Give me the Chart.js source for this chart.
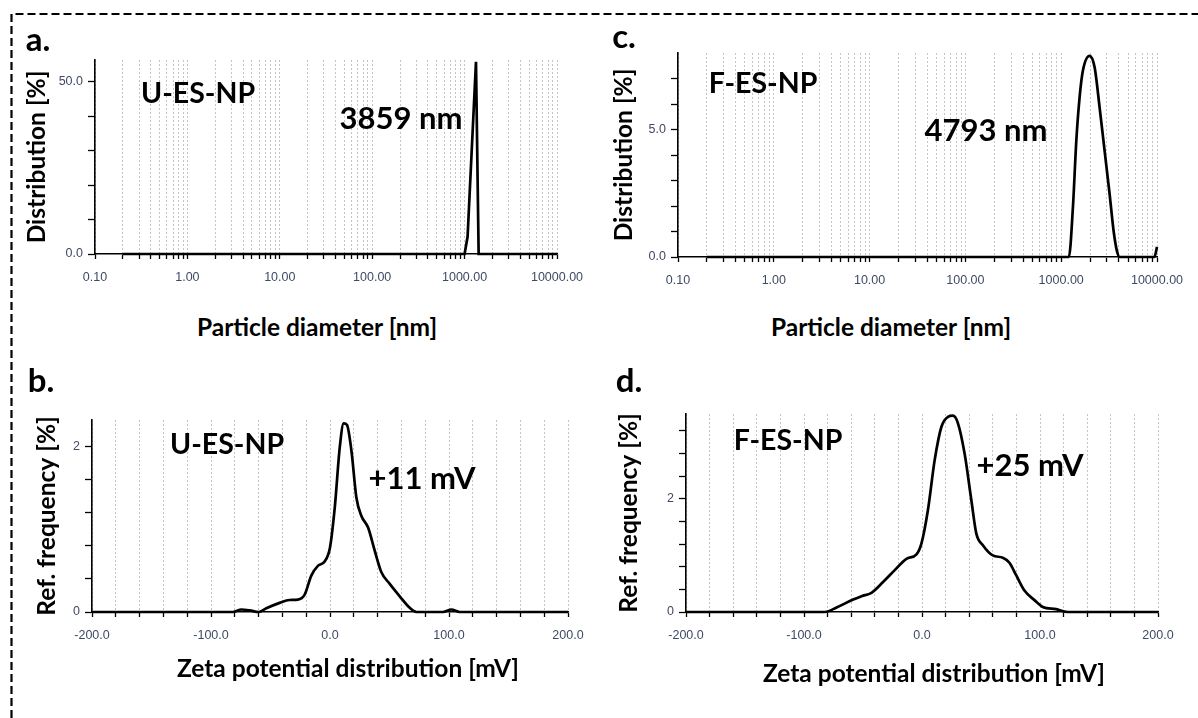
<!DOCTYPE html>
<html>
<head>
<meta charset="utf-8">
<script src="https://cdn.jsdelivr.net/npm/chart.js@4.4.0/dist/chart.umd.min.js"></script>
<style>
    body { margin: 0; background: #fff; width: 1198px; height: 718px; overflow: hidden; position: relative; font-family: Lato, sans-serif; }
    canvas { position: absolute; }
    .txt { position: absolute; font-weight: bold; color: #000; white-space: nowrap; line-height: 1; transform: translate(-50%, -0.89em); }
    .letra { font-size: 33px; }
    .nombre { font-size: 28.5px; }
    .valor { font-size: 31px; }
    .eje { font-size: 24.5px; }
</style>
</head>
<body>
<svg width="1198" height="718" style="position:absolute;left:0;top:0">
    <path d="M11.5 718 V14 H1198" fill="none" stroke="#000" stroke-width="2.2" stroke-dasharray="8 4"/>
</svg>

<canvas id="chartA"></canvas>
<canvas id="chartB"></canvas>
<canvas id="chartC"></canvas>
<canvas id="chartD"></canvas>

<div class="txt letra" style="left:38px;top:51px">a.</div>
<div class="txt nombre" style="left:198px;top:103px">U-ES-NP</div>
<div class="txt valor" style="left:401px;top:130px">3859 nm</div>
<div class="txt eje" style="left:317px;top:337px">Particle diameter [nm]</div>

<div class="txt letra" style="left:624px;top:48px">c.</div>
<div class="txt nombre" style="left:763px;top:93px">F-ES-NP</div>
<div class="txt valor" style="left:986px;top:142px">4793 nm</div>
<div class="txt eje" style="left:891px;top:337px">Particle diameter [nm]</div>

<div class="txt letra" style="left:41px;top:392px">b.</div>
<div class="txt nombre" style="left:227px;top:454px">U-ES-NP</div>
<div class="txt valor" style="left:422px;top:490px">+11 mV</div>
<div class="txt eje" style="left:348px;top:678px">Zeta potential distribution [mV]</div>

<div class="txt letra" style="left:629px;top:392px">d.</div>
<div class="txt nombre" style="left:788px;top:450px">F-ES-NP</div>
<div class="txt valor" style="left:1030px;top:477px">+25 mV</div>
<div class="txt eje" style="left:934px;top:683px">Zeta potential distribution [mV]</div>

<script>
// particle size axis (log): decades carry the labels, 2..9 only get a grid line
const sizeDecades = [0.1, 1, 10, 100, 1000, 10000];
const sizeDecadeLabels = ['0.10', '1.00', '10.00', '100.00', '1000.00', '10000.00'];
const sizeSteps = [1, 2, 3, 4, 5, 6, 7, 8, 9];

// zeta axis: tick every 20 mV, label every 100 mV
const zetaMajor = [-200, -100, 0, 100, 200];
const zetaMajorLabels = ['-200.0', '-100.0', '0.0', '100.0', '200.0'];
const zetaStep = 20;

// a. U-ES-NP, size distribution
const uDiam = [0.2, 1000, 1077, 1328, 1419, 10000];
const uDist = [0, 0, 5, 55.8, 0, 0];
const yTicksA = [0, 10, 20, 30, 40, 50];
const yLabelsA = ['0.0', '', '', '', '', '50.0'];

// c. F-ES-NP, size distribution
const fDiam = [0.2, 1202, 1325, 1438, 1556, 1685, 1977, 2232, 2518, 2839, 3201, 3524, 3815, 4072, 9400, 10000];
const fDist = [0, 0, 1.94, 4.56, 6.26, 7.31, 7.89, 7.44, 5.86, 4.16, 2.47, 1.02, 0.24, 0, 0, 0.4];
const yTicksC = [0, 1, 2, 3, 4, 5, 6, 7];
const yLabelsC = ['0.0', '', '', '', '', '5.0', '', ''];

// b. U-ES-NP, zeta potential
const uZeta = [-200, -81.5, -74.5, -67.5, -60, -53.5, -42.3, -34, -27, -21.3, -15.7, -10, -4.5, 0, 4, 8.2, 11.5, 14.3, 18, 22.2, 26.4, 32, 37.6, 43.2, 50.2, 58.6, 67, 72.6, 95, 102, 109, 200];
const uFreq = [0, 0, 0.03, 0.02, 0, 0.045, 0.11, 0.145, 0.15, 0.21, 0.44, 0.56, 0.61, 0.78, 1.26, 1.99, 2.28, 2.26, 1.95, 1.38, 1.16, 1.02, 0.74, 0.48, 0.34, 0.19, 0.05, 0, 0, 0.03, 0, 0];
const yTicksB = [0, 0.4, 0.8, 1.2, 1.6, 2];
const yLabelsB = ['0', '', '', '', '', '2'];

// d. F-ES-NP, zeta potential
const fZeta = [-200, -82.2, -72.4, -58.3, -51.2, -42.8, -33, -23.1, -13.2, -4.7, -0.5, 5, 10.7, 16.4, 22, 26.2, 30.4, 36.1, 41.8, 46, 51.6, 60, 68.5, 74.1, 79.8, 86.8, 95.3, 102.3, 113.6, 123.4, 200];
const fFreq = [0, 0, 0.08, 0.22, 0.28, 0.34, 0.53, 0.74, 0.94, 1.02, 1.21, 1.80, 2.68, 3.27, 3.45, 3.47, 3.34, 2.80, 1.98, 1.39, 1.18, 1.0, 0.96, 0.87, 0.65, 0.38, 0.21, 0.09, 0.05, 0, 0];
const yTicksD = [0, 0.4, 0.8, 1.2, 1.6, 2, 2.4, 2.8, 3.2];
const yLabelsD = ['0', '', '', '', '', '2', '', '', ''];

const TICK_COLOR = '#3e4a64';
const TICK_FONT = { family: 'Liberation Sans', size: 12.5 };
const GRID_COLOR = '#c4c4c4';
const TITLE_SIZE = 24.5;

Chart.defaults.font.family = 'Liberation Sans';

function ticksTamano() {
    const valores = [];
    const etiquetas = [];
    sizeDecades.forEach((d, i) => {
        if (i === sizeDecades.length - 1) {
            valores.push(d);
            etiquetas.push(sizeDecadeLabels[i]);
            return;
        }
        sizeSteps.forEach(s => {
            valores.push(d * s);
            etiquetas.push(s === 1 ? sizeDecadeLabels[i] : '');
        });
    });
    return { valores, etiquetas };
}

function ticksZeta() {
    const valores = [];
    const etiquetas = [];
    for (let v = zetaMajor[0]; v <= zetaMajor[zetaMajor.length - 1]; v += zetaStep) {
        valores.push(v);
        const i = zetaMajor.indexOf(v);
        etiquetas.push(i >= 0 ? zetaMajorLabels[i] : '');
    }
    return { valores, etiquetas };
}

// box = canvas on the page, area = plot area on the page
function dibujarPanel(id, box, area, cfg) {
    const canvas = document.getElementById(id);
    canvas.style.left = box.x + 'px';
    canvas.style.top = box.y + 'px';
    canvas.width = box.w;
    canvas.height = box.h;

    const puntos = cfg.xs.map((x, i) => ({ x, y: cfg.ys[i] }));
    const mitadLinea = TITLE_SIZE * 1.2 / 2;

    new Chart(canvas, {
        type: 'line',
        data: {
            datasets: [{
                data: puntos,
                borderColor: '#000',
                borderWidth: 2.7,
                pointRadius: 0,
                tension: 0,
                cubicInterpolationMode: cfg.suave ? 'monotone' : 'default',
                clip: false
            }]
        },
        options: {
            responsive: false,
            animation: false,
            events: [],
            layout: { padding: { top: area.top - box.y, right: box.x + box.w - area.right, left: 0, bottom: 0 } },
            plugins: { legend: { display: false }, tooltip: { enabled: false } },
            scales: {
                x: {
                    type: cfg.xTipo,
                    min: cfg.xMin,
                    max: cfg.xMax,
                    afterBuildTicks: ax => { ax.ticks = cfg.xTicks.valores.map(v => ({ value: v })); },
                    afterFit: ax => { ax.height = box.y + box.h - area.bottom; },
                    ticks: {
                        autoSkip: false, maxRotation: 0, minRotation: 0, padding: 11,
                        color: TICK_COLOR, font: TICK_FONT,
                        callback: (v, i) => cfg.xTicks.etiquetas[i]
                    },
                    grid: { color: GRID_COLOR, lineWidth: 1, tickLength: 5, tickColor: '#000', tickWidth: 1.3 },
                    border: { color: '#000', width: 1.6, dash: [2, 2] }
                },
                y: {
                    type: 'linear',
                    min: 0,
                    max: cfg.yMax,
                    afterBuildTicks: ax => { ax.ticks = cfg.yTicks.map(v => ({ value: v })); },
                    afterFit: ax => { ax.width = area.left - box.x; },
                    ticks: {
                        padding: 5, color: TICK_COLOR, font: TICK_FONT,
                        callback: (v, i) => cfg.yLabels[i]
                    },
                    grid: { drawOnChartArea: false, tickLength: 7, tickColor: '#000', tickWidth: 1.3 },
                    border: { color: '#000', width: 1.6 },
                    title: {
                        display: true,
                        text: cfg.yTitulo,
                        color: '#000',
                        font: { family: 'Lato', weight: 'bold', size: TITLE_SIZE },
                        padding: { top: cfg.yTituloX - box.x - mitadLinea, bottom: 0 }
                    }
                }
            }
        }
    });
}

const tamano = ticksTamano();
const zeta = ticksZeta();

dibujarPanel('chartA', { x: 14, y: 20, w: 586, h: 290 }, { left: 95, top: 60, right: 557, bottom: 254 }, {
    xs: uDiam, ys: uDist, xTipo: 'logarithmic', xMin: 0.1, xMax: 10000, xTicks: tamano,
    yMax: 56.3, yTicks: yTicksA, yLabels: yLabelsA, yTitulo: 'Distribution [%]', yTituloX: 37, suave: false
});

dibujarPanel('chartC', { x: 600, y: 20, w: 598, h: 290 }, { left: 678, top: 53, right: 1157, bottom: 257 }, {
    xs: fDiam, ys: fDist, xTipo: 'logarithmic', xMin: 0.1, xMax: 10000, xTicks: tamano,
    yMax: 8, yTicks: yTicksC, yLabels: yLabelsC, yTitulo: 'Distribution [%]', yTituloX: 624, suave: true
});

dibujarPanel('chartB', { x: 14, y: 380, w: 586, h: 290 }, { left: 92, top: 420, right: 568, bottom: 612 }, {
    xs: uZeta, ys: uFreq, xTipo: 'linear', xMin: -200, xMax: 200, xTicks: zeta,
    yMax: 2.32, yTicks: yTicksB, yLabels: yLabelsB, yTitulo: 'Ref. frequency [%]', yTituloX: 47, suave: true
});

dibujarPanel('chartD', { x: 600, y: 380, w: 598, h: 290 }, { left: 686, top: 414, right: 1158, bottom: 612 }, {
    xs: fZeta, ys: fFreq, xTipo: 'linear', xMin: -200, xMax: 200, xTicks: zeta,
    yMax: 3.5, yTicks: yTicksD, yLabels: yLabelsD, yTitulo: 'Ref. frequency [%]', yTituloX: 629, suave: true
});
</script>
</body>
</html>
